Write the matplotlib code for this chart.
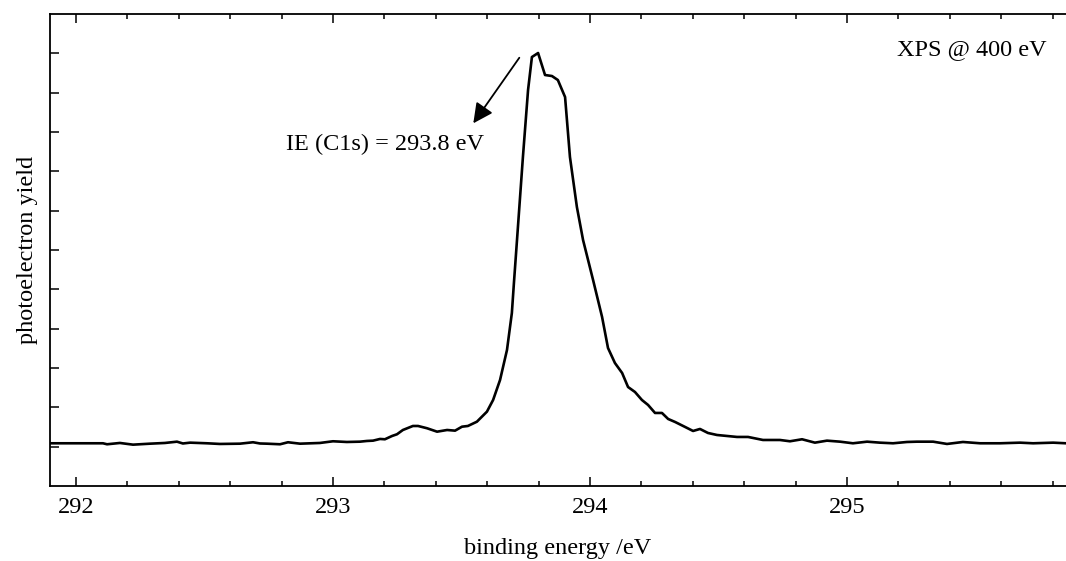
import matplotlib
matplotlib.use("Agg")
import matplotlib.pyplot as plt
from matplotlib.ticker import MultipleLocator, NullFormatter

plt.rcParams['font.family'] = ['Liberation Serif', 'DejaVu Serif']
plt.rcParams['mathtext.fontset'] = 'stix'

# binding energy (eV)
energy = [291.899, 292.105, 292.121, 292.171, 292.222, 292.288, 292.346, 292.393,
          292.416, 292.444, 292.510, 292.560, 292.638, 292.689, 292.716, 292.743,
          292.794, 292.825, 292.872, 292.949, 293.000, 293.054, 293.105, 293.132,
          293.156, 293.183, 293.202, 293.230, 293.249, 293.272, 293.311, 293.331,
          293.366, 293.405, 293.444, 293.475, 293.502, 293.525, 293.560, 293.599,
          293.623, 293.650, 293.677, 293.696, 293.704, 293.716, 293.739, 293.759,
          293.774, 293.798, 293.825, 293.852, 293.875, 293.903, 293.922, 293.949,
          293.973, 294.012, 294.047, 294.070, 294.097, 294.125, 294.148, 294.175,
          294.202, 294.226, 294.253, 294.280, 294.304, 294.331, 294.370, 294.401,
          294.428, 294.459, 294.494, 294.533, 294.572, 294.615, 294.673, 294.739,
          294.778, 294.825, 294.875, 294.922, 294.973, 295.023, 295.078, 295.128,
          295.179, 295.233, 295.272, 295.335, 295.389, 295.451, 295.518, 295.595,
          295.673, 295.724, 295.802, 295.852]

# photoelectron yield (arb. units)
yield_ = [0.086, 0.086, 0.061, 0.094, 0.051, 0.076, 0.094, 0.127,
          0.081, 0.102, 0.086, 0.069, 0.076, 0.112, 0.081, 0.076,
          0.061, 0.112, 0.076, 0.094, 0.137, 0.119, 0.127, 0.145,
          0.153, 0.196, 0.188, 0.272, 0.315, 0.424, 0.526, 0.526,
          0.468, 0.381, 0.424, 0.407, 0.508, 0.526, 0.635, 0.890,
          1.187, 1.695, 2.458, 3.399, 4.161, 5.254, 7.364, 9.067,
          9.906, 10.008, 9.449, 9.423, 9.321, 8.889, 7.364, 6.093,
          5.254, 4.237, 3.297, 2.509, 2.127, 1.873, 1.517, 1.390,
          1.187, 1.060, 0.857, 0.857, 0.704, 0.628, 0.501, 0.399,
          0.450, 0.348, 0.297, 0.272, 0.247, 0.247, 0.170, 0.170,
          0.137, 0.188, 0.102, 0.153, 0.127, 0.086, 0.127, 0.102,
          0.086, 0.119, 0.127, 0.127, 0.069, 0.119, 0.086, 0.086,
          0.102, 0.086, 0.102, 0.086]

x_ticks = [292, 293, 294, 295]
x_tick_labels = ["292", "293", "294", "295"]
y_ticks = [0, 1, 2, 3, 4, 5, 6, 7, 8, 9, 10]

fig = plt.figure(figsize=(10.66, 5.61), dpi=100)
ax = fig.add_axes([50/1066, 1 - 486/561, 1 - 50/1066, (486 - 14)/561])

ax.plot(energy, yield_, color='black', lw=1.9)

ax.set_xlim(291.899, 295.852)
ax.set_ylim(-1.0, 11.0)

ax.set_xticks(x_ticks)
ax.set_xticklabels(x_tick_labels)
ax.xaxis.set_minor_locator(MultipleLocator(0.2))
ax.set_yticks(y_ticks)
ax.yaxis.set_major_formatter(NullFormatter())

ax.tick_params(axis='x', which='major', direction='in', top=True, bottom=True,
               length=6.5, width=1.1, labelsize=17.5, pad=8)
ax.tick_params(axis='x', which='minor', direction='in', top=True, bottom=True,
               length=3.5, width=1.1)
ax.tick_params(axis='y', which='major', direction='in', left=True, right=False,
               length=6.5, width=1.1)

for side in ['left', 'bottom', 'top']:
    ax.spines[side].set_linewidth(1.3)
ax.spines['right'].set_visible(False)

ax.set_xlabel("binding energy /eV", fontsize=17.5, labelpad=14.5)
ax.set_ylabel("photoelectron yield", fontsize=17.5, labelpad=5)

ax.text(295.778, 9.957, "XPS @ 400 eV", fontsize=17.5, ha='right', va='baseline')
ax.text(293.588, 7.54, "IE (C1s) = 293.8 eV", fontsize=17.5, ha='right', va='baseline')
ax.annotate("", xy=(293.546, 8.221), xytext=(293.725, 9.888),
            arrowprops=dict(arrowstyle='-|>', color='black', lw=1.3,
                            mutation_scale=30, shrinkA=0, shrinkB=0))

fig.savefig("out.png", dpi=100)
